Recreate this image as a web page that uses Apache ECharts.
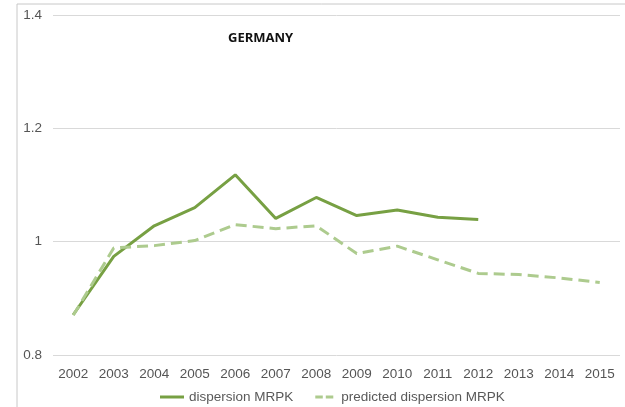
<!DOCTYPE html>
<html>
<head>
<meta charset="utf-8">
<script src="https://cdn.jsdelivr.net/npm/echarts@6/dist/echarts.min.js"></script>
<style>
  html, body { margin: 0; padding: 0; background: #fff; }
  #main { width: 625px; height: 407px; }
</style>
</head>
<body>
<div id="main"></div>
<script>
// data
var years = ['2002', '2003', '2004', '2005', '2006', '2007', '2008', '2009', '2010', '2011', '2012', '2013', '2014', '2015'];
var dispersion = [0.871, 0.974, 1.028, 1.060, 1.118, 1.041, 1.078, 1.046, 1.056, 1.043, 1.039, null, null, null];
var predicted = [0.870, 0.989, 0.993, 1.002, 1.030, 1.023, 1.028, 0.979, 0.992, 0.968, 0.944, 0.942, 0.936, 0.928];
var yTicks = [0.8, 1, 1.2, 1.4];

var solidColor = '#77A043';
var dashColor = '#ADCB8E';
var chart = echarts.init(document.getElementById('main'));

var option = {
  animation: false,
  textStyle: { fontFamily: 'Liberation Sans, Arial, sans-serif' },
  graphic: [{
    type: 'rect',
    shape: { x: 17, y: 4, width: 700, height: 500 },
    style: { fill: 'none', stroke: '#c8c8c8', lineWidth: 1 }
  }, {
    type: 'text',
    left: 228, top: 32,
    style: { text: 'GERMANY', font: 'bold 13px "Open Sans", sans-serif', fill: '#111' }
  }],
  grid: { left: 53, right: 5, top: 15, bottom: 52 },
  legend: {
    top: 385,
    left: 155,
    itemWidth: 24,
    itemHeight: 3,
    itemGap: 22,
    textStyle: { color: '#595959', fontSize: 13.5 },
    data: [
      { name: 'dispersion MRPK', icon: 'rect', itemStyle: { color: solidColor } },
      { name: 'predicted dispersion MRPK', icon: 'path://M0,0h10v4h-10z M14,0h10v4h-10z', itemStyle: { color: dashColor } }
    ]
  },
  xAxis: {
    type: 'category',
    data: years,
    boundaryGap: true,
    axisLine: { show: false },
    axisTick: { show: false },
    axisLabel: { color: '#555', fontSize: 13.5, margin: 12 }
  },
  yAxis: {
    type: 'value',
    min: yTicks[0],
    max: yTicks[yTicks.length - 1],
    interval: 0.2,
    axisLine: { show: false },
    axisTick: { show: false },
    axisLabel: { color: '#555', fontSize: 13.5, margin: 11, formatter: function (v) { return String(Math.round(v * 10) / 10); } },
    splitLine: { lineStyle: { color: '#d9d9d9', width: 1 } }
  },
  series: [{
    name: 'dispersion MRPK',
    type: 'line',
    data: dispersion,
    showSymbol: false,
    lineStyle: { color: solidColor, width: 3 },
    itemStyle: { color: solidColor }
  }, {
    name: 'predicted dispersion MRPK',
    type: 'line',
    data: predicted,
    showSymbol: false,
    lineStyle: { color: dashColor, width: 3, type: [11, 6] },
    itemStyle: { color: dashColor }
  }]
};

chart.setOption(option);
</script>
</body>
</html>
